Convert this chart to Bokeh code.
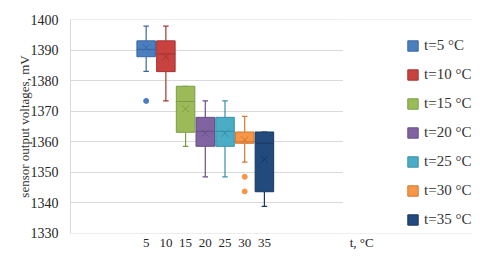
from bokeh.plotting import figure
from bokeh.models import Range1d, Legend, LegendItem, FixedTicker, BoxAnnotation, InlineStyleSheet
from bokeh.embed import file_html
from bokeh.resources import INLINE

# ---- data ----
temps = [5, 10, 15, 20, 25, 30, 35]
series_labels = ["t=5 °C", "t=10 °C", "t=15 °C", "t=20 °C", "t=25 °C", "t=30 °C", "t=35 °C"]
whisker_low = [1383.1, 1373.4, 1358.5, 1348.5, 1348.5, 1353.3, 1338.8]
q1 = [1387.9, 1383.0, 1363.1, 1358.5, 1358.5, 1359.5, 1343.6]
median = [1390.3, 1388.8, 1373.2, 1363.4, 1363.4, 1360.0, 1359.5]
q3 = [1393.1, 1393.1, 1378.2, 1368.0, 1368.0, 1363.2, 1363.2]
whisker_high = [1397.9, 1397.9, 1378.2, 1373.4, 1373.4, 1368.3, 1363.2]
mean = [1390.9, 1387.9, 1370.8, 1362.8, 1362.8, 1360.6, 1354.2]
outlier_t = [5, 30, 30]
outlier_v = [1373.4, 1348.5, 1343.7]
y_ticks = [1330, 1340, 1350, 1360, 1370, 1380, 1390, 1400]
x_axis_title = "t, °C"
x_axis_title_pos = 59.7

fills = ["#4A7EBF", "#C8423F", "#9BBB59", "#8064A2", "#4BACC6", "#F79646", "#234A7C"]
edges = ["#3A66A0", "#A33532", "#7E9C45", "#674F86", "#3A8FA6", "#D07A35", "#1A3860"]

FONT = "Liberation Serif"

x_lo = -14.2
x_plot_hi = 54.9     # right end of the plotting area (grid ends here)
x_hi = 87.8          # frame extended to host the legend

p = figure(frame_width=402, frame_height=214, output_backend="svg", toolbar_location=None,
           x_range=Range1d(x_lo, x_hi), y_range=Range1d(1329.9, 1400.1),
           min_border_left=70, min_border_right=7, min_border_top=19, min_border_bottom=12)
p.stylesheets = [InlineStyleSheet(css=":host { outline: 1px solid #D9D9D9; outline-offset: -3px; }")]
p.outline_line_color = None
p.background_fill_color = "white"
p.border_fill_color = "white"

box_w = 4.7
cap_w = 1.4
items = []
for i, t in enumerate(temps):
    c = fills[i]
    e = edges[i]
    p.segment(x0=[t, t], y0=[whisker_low[i], q3[i]], x1=[t, t], y1=[q1[i], whisker_high[i]],
              line_color=e, line_width=1.2)
    p.segment(x0=[t - cap_w / 2, t - cap_w / 2], y0=[whisker_low[i], whisker_high[i]],
              x1=[t + cap_w / 2, t + cap_w / 2], y1=[whisker_low[i], whisker_high[i]],
              line_color=e, line_width=1.2)
    r = p.vbar(x=[t], width=box_w, bottom=[q1[i]], top=[q3[i]],
               fill_color=c, line_color=e, line_width=1)
    p.segment(x0=[t - box_w / 2], y0=[median[i]], x1=[t + box_w / 2], y1=[median[i]],
              line_color=e, line_width=1)
    p.scatter(x=[t], y=[mean[i]], marker="x", size=10, line_color=e, line_width=1)
    items.append(LegendItem(label=series_labels[i], renderers=[r]))

for t, v in zip(outlier_t, outlier_v):
    idx = temps.index(t)
    p.scatter(x=[t], y=[v], marker="circle", size=5, fill_color=fills[idx], line_color=fills[idx])

# white cover hides the grid to the right of the plotting area (legend zone)
p.add_layout(BoxAnnotation(left=x_plot_hi, fill_color="white", fill_alpha=1.0,
                           line_color=None, level="underlay"))

# axes
p.xaxis.ticker = FixedTicker(ticks=temps + [x_axis_title_pos])
p.xaxis.major_label_overrides = {x_axis_title_pos: x_axis_title}
p.yaxis.ticker = FixedTicker(ticks=y_ticks)
for ax in (p.xaxis[0], p.yaxis[0]):
    ax.major_tick_line_color = None
    ax.minor_tick_line_color = None
    ax.major_label_text_font = FONT
    ax.major_label_text_color = "#262626"
p.xaxis.axis_line_color = None
p.yaxis.axis_line_color = "#D9D9D9"
p.xaxis.major_label_text_font_size = "13px"
p.yaxis.major_label_text_font_size = "14px"
p.xaxis.major_label_standoff = -5
p.yaxis.major_label_standoff = 6
p.yaxis.axis_label = "sensor output voltages, mV"
p.yaxis.axis_label_text_font = FONT
p.yaxis.axis_label_text_font_size = "13px"
p.yaxis.axis_label_text_font_style = "normal"
p.yaxis.axis_label_text_color = "#333333"
p.yaxis.axis_label_standoff = -4

p.xgrid.grid_line_color = None
p.ygrid.grid_line_color = "#D9D9D9"
p.ygrid.grid_line_width = 1

legend = Legend(items=items, location=(336, 5), padding=0, margin=0, spacing=12,
                glyph_width=13, glyph_height=13, label_height=13, label_standoff=5,
                label_text_font=FONT, label_text_font_size="15px", label_text_color="#333333",
                border_line_color=None, background_fill_alpha=0)
p.add_layout(legend, "center")

open("out.html", "w").write(file_html(p, INLINE))
